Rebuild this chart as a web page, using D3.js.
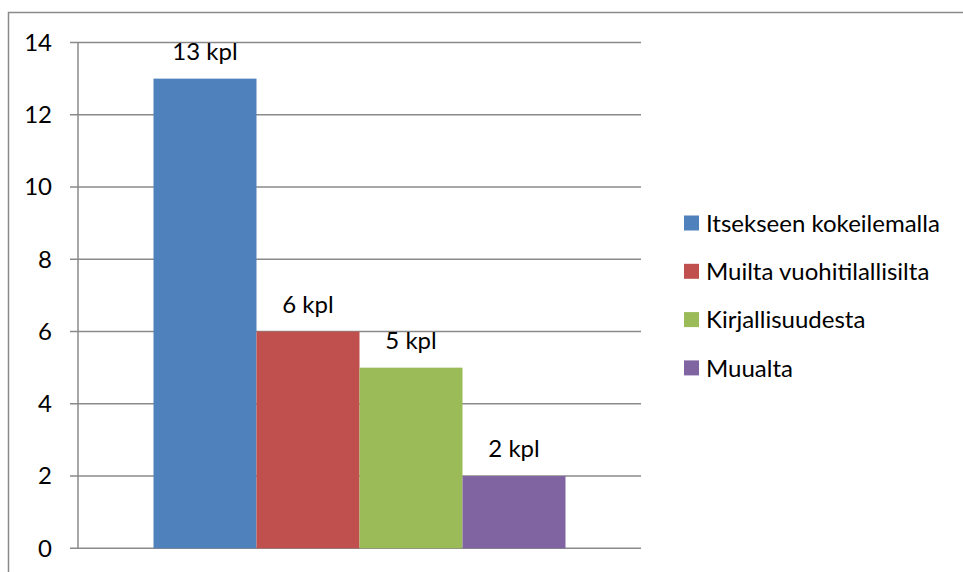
<!DOCTYPE html>
<html>
<head>
<meta charset="utf-8">
<script src="https://cdn.jsdelivr.net/npm/d3@7"></script>
<style>
  html, body { margin: 0; padding: 0; background: #fff; }
  svg { display: block; }
  text { font-family: Lato, "Open Sans", sans-serif; fill: #000; }
</style>
</head>
<body>
<svg id="chart" width="963" height="572"></svg>
<script>
// Where the knowledge came from (number of farms)
const categories = ["Itsekseen kokeilemalla", "Muilta vuohitilallisilta", "Kirjallisuudesta", "Muualta"];
const values = [13, 6, 5, 2];
const valueLabels = ["13 kpl", "6 kpl", "5 kpl", "2 kpl"];
const colors = ["#4F81BD", "#C0504D", "#9BBB59", "#8064A2"];
const yTicks = [0, 2, 4, 6, 8, 10, 12, 14];

const svg = d3.select("#chart");
const fontSize = 24;

// chart frame, running off the right and bottom edges
svg.append("rect")
  .attr("x", 8.5).attr("y", 12.5)
  .attr("width", 1000).attr("height", 600)
  .attr("fill", "none")
  .attr("stroke", "#8a8a8a")
  .attr("stroke-width", 1.5);

const plot = { left: 78, right: 641, top: 42.5, bottom: 548.3 };

const y = d3.scaleLinear().domain([0, 14]).range([plot.bottom, plot.top]);

// the series sit side by side in one category slot, with wide outer gaps
const x = d3.scaleBand()
  .domain(categories)
  .range([plot.left, plot.right])
  .paddingInner(0)
  .paddingOuter(0.733);

// gridlines with small tick stubs on the left
svg.append("g")
  .selectAll("line")
  .data(yTicks)
  .join("line")
  .attr("x1", plot.left - 8)
  .attr("x2", plot.right)
  .attr("y1", d => y(d))
  .attr("y2", d => y(d))
  .attr("stroke", "#8a8a8a")
  .attr("stroke-width", 1.5);

// vertical axis line
svg.append("line")
  .attr("x1", plot.left).attr("x2", plot.left)
  .attr("y1", plot.top).attr("y2", plot.bottom)
  .attr("stroke", "#8a8a8a")
  .attr("stroke-width", 1.5);

// axis labels
svg.append("g")
  .selectAll("text")
  .data(yTicks)
  .join("text")
  .attr("x", 52)
  .attr("y", d => y(d))
  .attr("dy", "0.35em")
  .attr("text-anchor", "end")
  .style("font-size", fontSize + "px")
  .text(d => d);

// bars
svg.append("g")
  .selectAll("rect")
  .data(categories)
  .join("rect")
  .attr("x", d => x(d))
  .attr("width", x.bandwidth())
  .attr("y", (d, i) => y(values[i]))
  .attr("height", (d, i) => y(0) - y(values[i]))
  .attr("fill", (d, i) => colors[i]);

// value labels
svg.append("g")
  .selectAll("text")
  .data(categories)
  .join("text")
  .attr("x", d => x(d) + x.bandwidth() / 2)
  .attr("y", (d, i) => y(values[i]) - 19)
  .attr("text-anchor", "middle")
  .style("font-size", fontSize + "px")
  .text((d, i) => valueLabels[i]);

// legend
const legend = svg.append("g")
  .selectAll("g")
  .data(categories)
  .join("g")
  .attr("transform", (d, i) => `translate(684, ${223 + i * 48.3})`);

legend.append("rect")
  .attr("x", 0).attr("y", -7.5)
  .attr("width", 15).attr("height", 15)
  .attr("fill", (d, i) => colors[i]);

legend.append("text")
  .attr("x", 22)
  .attr("y", 0)
  .attr("dy", "0.36em")
  .style("font-size", fontSize + "px")
  .text(d => d);
</script>
</body>
</html>
